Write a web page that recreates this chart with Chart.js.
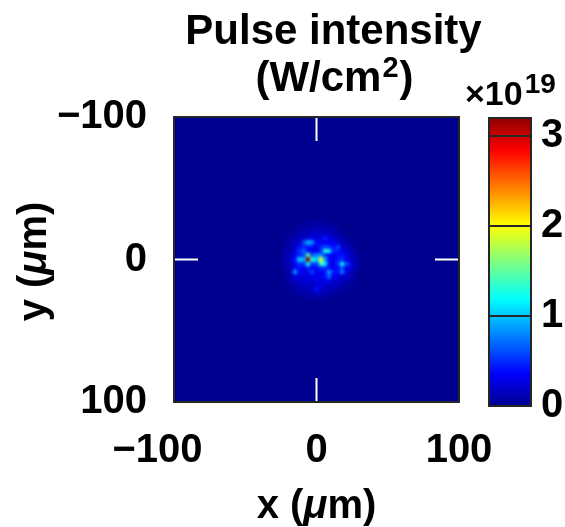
<!DOCTYPE html>
<html><head><meta charset="utf-8">
<script src="https://cdn.jsdelivr.net/npm/chart.js@4.4.0/dist/chart.umd.min.js"></script>
<style>
html,body{margin:0;padding:0;background:#fff;overflow:hidden}
#wrap{position:relative;width:565px;height:527px}
#main{position:absolute;left:0;top:0}
#cbar{position:absolute;left:450px;top:0}
</style></head><body>
<div id="wrap">
<canvas id="main" width="565" height="527"></canvas>
<canvas id="cbar" width="115" height="527"></canvas>
</div>
<script>
// ---------------- data ----------------
const xTicks = [-100, 0, 100];
const yTicks = [-100, 0, 100];
const colorTicks = [0, 1, 2, 3];
const colorMin = 0, colorMax = 3.2;          // x10^19 W/cm^2
const backgroundLevel = 0;                    // outside the sampled speckle window
// grid cell centres (um)
const gridX = [-27,-24,-21,-18,-15,-12,-9,-6,-3,0,3,6,9,12,15,18,21,24,27,30,33];
const gridY = [-27,-24,-21,-18,-15,-12,-9,-6,-3,0,3,6,9,12,15,18,21,24,27];
// intensity (x10^19 W/cm^2), rows follow gridY, columns follow gridX
const intensity = [
 [0,0,0,0,0,0,0,.05,.05,.05,.05,.05,0,0,0,0,0,0,0,0,0],
 [0,0,0,0,0,.05,.05,.05,.05,.1,.05,.05,.05,.05,0,0,0,0,0,0,0],
 [0,0,0,0,.05,.05,.1,.1,.15,.1,.15,.1,.15,.1,.05,0,0,0,0,0,0],
 [0,0,0,.05,.05,.1,.15,.1,.2,.2,.15,.2,.2,.1,.1,.05,0,0,0,0,0],
 [0,0,.05,.05,.1,.15,.2,.2,.3,.2,.3,.45,.3,.2,.15,.1,.05,0,0,0,0],
 [0,0,.05,.1,.15,.2,.6,.9,.8,.4,.3,.3,.35,.3,.2,.15,.1,.05,0,0,0],
 [0,0,.05,.1,.2,.4,.5,.4,.4,.3,.5,.6,.5,.4,.6,.2,.15,.1,.05,0,0],
 [0,.05,.1,.15,.2,.5,.7,.4,.3,.3,.5,1.3,1.2,.5,.4,.3,.2,.1,.05,0,0],
 [0,.05,.1,.15,.3,.45,.6,1.5,.6,.8,.8,.5,.4,.3,.4,.4,.3,.15,.1,.05,0],
 [0,.05,.1,.2,.4,1.0,.9,3.2,1.3,1.0,1.9,.9,.4,.3,.45,.5,.3,.2,.1,.05,0],
 [0,.05,.1,.15,.3,.5,.5,1.2,.5,.6,1.4,1.2,.4,.3,.5,1.2,.6,.3,.15,.05,0],
 [0,.05,.1,.15,.4,.4,.3,.5,.3,.4,.5,.5,.4,.3,.4,.6,.3,.2,.1,.05,0],
 [0,0,.05,.15,.9,.35,.3,.3,.6,.3,.3,.4,.9,.45,.35,.8,.3,.15,.1,0,0],
 [0,0,.05,.1,.3,.2,.3,.25,.3,.3,.3,.4,.7,.3,.3,.2,.2,.1,.05,0,0],
 [0,0,.05,.1,.15,.2,.2,.25,.2,.3,.2,.3,.3,.2,.2,.15,.1,.05,.05,0,0],
 [0,0,0,.05,.1,.15,.15,.2,.15,.2,.3,.2,.2,.15,.15,.1,.05,.05,0,0,0],
 [0,0,0,.05,.05,.1,.15,.1,.15,.4,.15,.15,.15,.1,.1,.05,.05,0,0,0,0],
 [0,0,0,0,.05,.05,.1,.05,.1,.15,.1,.1,.1,.05,.05,0,0,0,0,0,0],
 [0,0,0,0,0,0,.05,.05,.05,.05,.05,.05,.05,0,0,0,0,0,0,0,0]
];

// ---------------- helpers ----------------
const FONT = '"Liberation Sans", Arial, Helvetica, sans-serif';
function clamp01(v){ return Math.max(0, Math.min(1, v)); }
function jetRGB(v){
  let t = clamp01((v - colorMin) / (colorMax - colorMin));
  t = 1/64 + t * 62/64;
  const r = clamp01(1.5 - Math.abs(4*t - 3));
  const g = clamp01(1.5 - Math.abs(4*t - 2));
  const b = clamp01(1.5 - Math.abs(4*t - 1));
  return 'rgb(' + Math.round(r*255) + ',' + Math.round(g*255) + ',' + Math.round(b*255) + ')';
}
function fmt(v){ return v < 0 ? '\u2212' + Math.abs(v) : String(v); }
function edges(c){
  const e = [];
  for (let i = 0; i <= c.length; i++){
    if (i === 0) e.push(c[0] - (c[1]-c[0])/2);
    else if (i === c.length) e.push(c[i-1] + (c[i-1]-c[i-2])/2);
    else e.push((c[i-1] + c[i]) / 2);
  }
  return e;
}
const cells = [];
intensity.forEach((row, r) => row.forEach((v, c) => cells.push({x: gridX[c], y: gridY[r], v: v, r: r, c: c})));

// ---------------- main heatmap ----------------
const heatmapPlugin = {
  id: 'heatmap',
  beforeDatasetsDraw(chart){
    const {ctx, chartArea: a, scales: {x, y}} = chart;
    ctx.save();
    ctx.beginPath(); ctx.rect(a.left, a.top, a.right - a.left, a.bottom - a.top); ctx.clip();
    const bx0 = x.getPixelForValue(x.min), bx1 = x.getPixelForValue(x.max);
    const by0 = y.getPixelForValue(y.min), by1 = y.getPixelForValue(y.max);
    ctx.fillStyle = jetRGB(backgroundLevel);
    ctx.fillRect(Math.min(bx0,bx1), Math.min(by0,by1), Math.abs(bx1-bx0), Math.abs(by1-by0));
    const off = document.createElement('canvas');
    off.width = chart.canvas.width; off.height = chart.canvas.height;
    const o = off.getContext('2d');
    const ex = edges(gridX), ey = edges(gridY);
    chart.data.datasets[0].data.forEach(p => {
      const x0 = Math.round(x.getPixelForValue(ex[p.c])), x1 = Math.round(x.getPixelForValue(ex[p.c+1]));
      const y0 = Math.round(y.getPixelForValue(ey[p.r])), y1 = Math.round(y.getPixelForValue(ey[p.r+1]));
      o.fillStyle = jetRGB(p.v);
      o.fillRect(Math.min(x0,x1), Math.min(y0,y1), Math.abs(x1-x0), Math.abs(y1-y0));
    });
    ctx.filter = 'blur(1.4px)';
    ctx.drawImage(off, 0, 0);
    ctx.filter = 'none';
    ctx.restore();
  },
  afterDatasetsDraw(chart){
    const {ctx, chartArea: a, scales: {x, y}} = chart;
    const L = 24;
    ctx.save();
    ctx.strokeStyle = '#ffffff'; ctx.lineWidth = 2;
    ctx.beginPath();
    xTicks.forEach(v => { const px = x.getPixelForValue(v);
      ctx.moveTo(px, a.bottom); ctx.lineTo(px, a.bottom - L);
      ctx.moveTo(px, a.top); ctx.lineTo(px, a.top + L); });
    yTicks.forEach(v => { const py = y.getPixelForValue(v);
      ctx.moveTo(a.left, py); ctx.lineTo(a.left + L, py);
      ctx.moveTo(a.right, py); ctx.lineTo(a.right - L, py); });
    ctx.stroke();
    ctx.strokeStyle = '#262626'; ctx.lineWidth = 2;
    ctx.strokeRect(a.left, a.top, a.right - a.left, a.bottom - a.top);
    ctx.restore();
  },
  afterDraw(chart){
    const {ctx, chartArea: a} = chart;
    const cx = (a.left + a.right) / 2;
    ctx.save();
    ctx.fillStyle = '#000';
    ctx.textBaseline = 'alphabetic';
    ctx.textAlign = 'center';
    ctx.font = 'bold 42px ' + FONT;
    const tcx = cx + 17;
    ctx.fillText('Pulse intensity', tcx, 44);
    const p1 = '(W/cm', p2 = '2', p3 = ')';
    ctx.font = 'bold 42px ' + FONT; const w1 = ctx.measureText(p1).width, w3 = ctx.measureText(p3).width;
    ctx.font = 'bold 29px ' + FONT; const w2 = ctx.measureText(p2).width;
    let sx = tcx - (w1 + w2 + w3) / 2;
    ctx.textAlign = 'left';
    ctx.font = 'bold 42px ' + FONT; ctx.fillText(p1, sx, 91); sx += w1;
    ctx.font = 'bold 29px ' + FONT; ctx.fillText(p2, sx + 1, 77); sx += w2 + 2;
    ctx.font = 'bold 42px ' + FONT; ctx.fillText(p3, sx, 91);
    function drawRuns(rs, centerX, baseY){
      let tot = 0; rs.forEach(r => { ctx.font = r[1] + ' 40px ' + FONT; tot += ctx.measureText(r[0]).width; });
      let px = centerX - tot/2;
      rs.forEach(r => { ctx.font = r[1] + ' 40px ' + FONT; ctx.fillText(r[0], px, baseY); px += ctx.measureText(r[0]).width; });
    }
    ctx.textAlign = 'left';
    drawRuns([['x (', 'bold'], ['\u03bc', 'italic bold'], ['m)', 'bold']], cx, 518);
    ctx.translate(46, (a.top + a.bottom) / 2 + 2);
    ctx.rotate(-Math.PI / 2);
    drawRuns([['y (', 'bold'], ['\u03bc', 'italic bold'], ['m)', 'bold']], 0, 0);
    ctx.restore();
  }
};

new Chart(document.getElementById('main'), {
  type: 'scatter',
  data: { datasets: [{ label: 'Pulse intensity', data: cells, pointRadius: 0, showLine: false }] },
  options: {
    responsive: false, animation: false, devicePixelRatio: 1,
    layout: { padding: { top: 117, right: 106, left: 0, bottom: 0 } },
    plugins: { legend: { display: false }, tooltip: { enabled: false }, title: { display: false } },
    scales: {
      x: {
        type: 'linear', position: 'bottom', min: -100, max: 100,
        afterBuildTicks: s => { s.ticks = xTicks.map(v => ({ value: v })); },
        afterFit: s => { s.height = 125; },
        ticks: { callback: v => v < 0 ? fmt(v) + '   ' : fmt(v), font: { family: FONT, size: 40, weight: 'bold', lineHeight: 1 }, color: '#000', padding: 29, maxRotation: 0, autoSkip: false },
        grid: { display: false, drawTicks: false }, border: { display: false }
      },
      y: {
        type: 'linear', position: 'left', min: -100, max: 100, reverse: true,
        afterBuildTicks: s => { s.ticks = yTicks.map(v => ({ value: v })); },
        afterFit: s => { s.width = 174; },
        ticks: { callback: v => fmt(v), font: { family: FONT, size: 40, weight: 'bold', lineHeight: 1 }, color: '#000', padding: 27, autoSkip: false },
        grid: { display: false, drawTicks: false }, border: { display: false }
      }
    }
  },
  plugins: [heatmapPlugin]
});

// ---------------- colorbar ----------------
const colorbarPlugin = {
  id: 'colorbar',
  beforeDatasetsDraw(chart){
    const {ctx, chartArea: a, scales: {y}} = chart;
    const y0 = y.getPixelForValue(colorMin), y1 = y.getPixelForValue(colorMax);
    const g = ctx.createLinearGradient(0, y0, 0, y1);
    for (let i = 0; i <= 64; i++) g.addColorStop(i/64, jetRGB(colorMin + (colorMax - colorMin) * i/64));
    ctx.save();
    ctx.fillStyle = g;
    ctx.fillRect(a.left, a.top, a.right - a.left, a.bottom - a.top);
    ctx.strokeStyle = '#262626'; ctx.lineWidth = 2;
    ctx.beginPath();
    colorTicks.forEach(v => { if (v > colorMin){ const py = y.getPixelForValue(v); ctx.moveTo(a.left, py); ctx.lineTo(a.right, py); } });
    ctx.stroke();
    ctx.strokeRect(a.left, a.top, a.right - a.left, a.bottom - a.top);
    ctx.fillStyle = '#000'; ctx.textAlign = 'left'; ctx.textBaseline = 'alphabetic';
    ctx.font = 'bold 34px ' + FONT;
    ctx.fillText('\u00d710', a.left - 24, a.top - 13);
    const w = ctx.measureText('\u00d710').width;
    ctx.font = 'bold 28px ' + FONT;
    ctx.fillText('19', a.left - 24 + w + 2, a.top - 25);
    ctx.restore();
  }
};

new Chart(document.getElementById('cbar'), {
  type: 'scatter',
  data: { datasets: [] },
  options: {
    responsive: false, animation: false, devicePixelRatio: 1,
    layout: { padding: { left: 39, top: 118, bottom: 121, right: 0 } },
    plugins: { legend: { display: false }, tooltip: { enabled: false } },
    scales: {
      x: { display: false, min: 0, max: 1 },
      y: {
        position: 'right', min: colorMin, max: colorMax,
        afterBuildTicks: s => { s.ticks = colorTicks.map(v => ({ value: v })); },
        afterFit: s => { s.width = 34; },
        ticks: { callback: v => fmt(v), font: { family: FONT, size: 40, weight: 'bold', lineHeight: 1 }, color: '#000', padding: 10, autoSkip: false },
        grid: { display: false, drawTicks: false }, border: { display: false }
      }
    }
  },
  plugins: [colorbarPlugin]
});
</script>
</body></html>
